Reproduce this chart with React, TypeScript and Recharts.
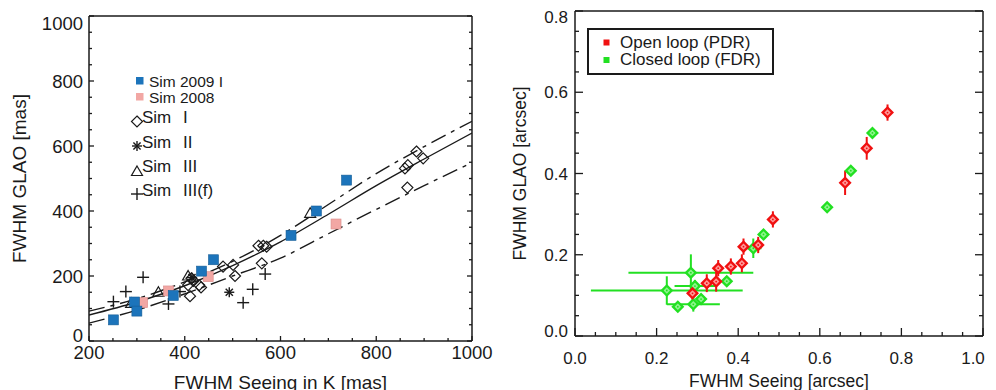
import React from "react";
import {
  ComposedChart,
  ScatterChart,
  Scatter,
  Line,
  XAxis,
  YAxis,
  ErrorBar,
  Legend,
  Label,
} from "recharts";

const FONT = "'Liberation Sans', Arial, Helvetica, sans-serif";
const ink = "#1a1a1a";

// ---- left panel: FWHM GLAO vs FWHM seeing in K [mas]
const sim2009 = [[251, 65], [295, 120], [300, 92], [376, 140], [435, 215], [460, 250], [622, 325], [675, 400], [738, 495]];
const sim2008 = [[312, 118], [366, 154], [449, 198], [716, 360]];
const simI = [
  [411, 138], [407, 172], [414, 193], [430, 172], [434, 165], [418, 185], [480, 229], [501, 234],
  [505, 200], [561, 239], [554, 293], [564, 293], [571, 290], [860, 531], [866, 541], [884, 583],
  [898, 562], [865, 472],
];
const simII = [[493, 150], [415, 195]];
const simIII = [[288, 116], [345, 150], [407, 200], [662, 393]];
const simIIIf = [[251, 121], [277, 152], [313, 196], [366, 114], [390, 152], [522, 118], [542, 159], [568, 206]];

const fitX = [200, 300, 400, 500, 600, 700, 800, 900, 1000];
const fitMid = [80, 120, 170, 232, 305, 390, 478, 560, 640];
const fitUpper = [92, 130, 182, 245, 325, 420, 515, 598, 676];
const fitLower = [55, 95, 145, 200, 255, 330, 405, 478, 549];

const kxTicks = [200, 250, 300, 350, 400, 450, 500, 550, 600, 650, 700, 750, 800, 850, 900, 950, 1000];
const kyTicks = [0, 50, 100, 150, 200, 250, 300, 350, 400, 450, 500, 550, 600, 650, 700, 750, 800, 850, 900, 950, 1000];

// ---- right panel: [seeing, glao, xerr, yerr] in arcsec
const openLoop = [
  [0.288, 0.105, 0.012, 0.016], [0.323, 0.13, 0, 0.022], [0.346, 0.134, 0, 0.025], [0.351, 0.167, 0, 0.02],
  [0.382, 0.171, 0, 0.02], [0.409, 0.179, 0, 0.022], [0.413, 0.22, 0, 0.02], [0.449, 0.224, 0, 0.02],
  [0.485, 0.287, 0, 0.02], [0.662, 0.377, 0, 0.03], [0.715, 0.462, 0, 0.028], [0.766, 0.55, 0, 0.02],
];
const closedLoop = [
  [0.225, 0.112, 0.186, 0.035], [0.252, 0.072, 0, 0.008], [0.284, 0.156, 0.153, 0.045], [0.29, 0.078, 0.065, 0.018],
  [0.294, 0.123, 0.05, 0.015], [0.309, 0.091, 0, 0.01], [0.372, 0.135, 0, 0.01], [0.437, 0.216, 0.02, 0.024],
  [0.462, 0.25, 0, 0.01], [0.618, 0.317, 0, 0.01], [0.676, 0.407, 0, 0.01], [0.729, 0.5, 0, 0.008],
];

const sxTicks = [0, 0.05, 0.1, 0.15, 0.2, 0.25, 0.3, 0.35, 0.4, 0.45, 0.5, 0.55, 0.6, 0.65, 0.7, 0.75, 0.8, 0.85, 0.9, 0.95, 1];
const syTicks = [0, 0.05, 0.1, 0.15, 0.2, 0.25, 0.3, 0.35, 0.4, 0.45, 0.5, 0.55, 0.6, 0.65, 0.7, 0.75, 0.8];

const pts = (a: number[][]) => a.map(([x, y]) => ({ x, y }));
const fit = (ys: number[]) => fitX.map((x, i) => ({ x, y: ys[i] }));
const errPts = (a: number[][]) => a.map(([x, y, ex, ey]) => ({ x, y, ex, ey }));

const onStep = (step: number) => (v: number) => Math.abs(v / step - Math.round(v / step)) < 1e-6;

type TickOpts = {
  side: "bottom" | "top" | "left" | "right";
  isMajor: (v: number) => boolean;
  major: number;
  minor: number;
  label?: (v: number) => string;
  fontSize?: number;
  gap?: number;
  nudge?: (v: number) => number;
};

function makeTick(o: TickOpts) {
  return (p: any) => {
    const { x, y, payload } = p;
    const v = payload.value;
    const big = o.isMajor(v);
    const len = big ? o.major : o.minor;
    const nd = o.nudge ? o.nudge(v) : 0;
    let line;
    if (o.side === "bottom") line = <line x1={x} y1={y} x2={x} y2={y - len} />;
    else if (o.side === "top") line = <line x1={x} y1={y} x2={x} y2={y + len} />;
    else if (o.side === "left") line = <line x1={x} y1={y} x2={x + len} y2={y} />;
    else line = <line x1={x} y1={y} x2={x - len} y2={y} />;
    let text = null;
    if (o.label && big) {
      const fs = o.fontSize || 16;
      if (o.side === "bottom")
        text = (
          <text x={x + nd} y={y + (o.gap || 0)} textAnchor="middle" fontSize={fs} fontFamily={FONT} fill={ink} stroke="none">
            {o.label(v)}
          </text>
        );
      else
        text = (
          <text x={x - (o.gap || 0)} y={y + fs * 0.36 + nd} textAnchor="end" fontSize={fs} fontFamily={FONT} fill={ink} stroke="none">
            {o.label(v)}
          </text>
        );
    }
    return (
      <g stroke={ink} strokeWidth={1.3}>
        {line}
        {text}
      </g>
    );
  };
}

// ---- marker shapes
const Square = (color: string, edge: string) => (p: any) =>
  <rect x={p.cx - 5} y={p.cy - 5} width={10} height={10} fill={color} stroke={edge} strokeWidth={0.6} />;

const OpenDiamond = (p: any) => (
  <polygon
    points={`${p.cx},${p.cy - 5.5} ${p.cx + 5.5},${p.cy} ${p.cx},${p.cy + 5.5} ${p.cx - 5.5},${p.cy}`}
    fill="none"
    stroke={ink}
    strokeWidth={1.2}
  />
);
const Asterisk = (p: any) => (
  <g stroke={ink} strokeWidth={1.4}>
    <line x1={p.cx - 5} y1={p.cy} x2={p.cx + 5} y2={p.cy} />
    <line x1={p.cx} y1={p.cy - 5} x2={p.cx} y2={p.cy + 5} />
    <line x1={p.cx - 3.6} y1={p.cy - 3.6} x2={p.cx + 3.6} y2={p.cy + 3.6} />
    <line x1={p.cx - 3.6} y1={p.cy + 3.6} x2={p.cx + 3.6} y2={p.cy - 3.6} />
  </g>
);
const Triangle = (p: any) => (
  <polygon
    points={`${p.cx},${p.cy - 5.5} ${p.cx + 5.5},${p.cy + 4} ${p.cx - 5.5},${p.cy + 4}`}
    fill="none"
    stroke={ink}
    strokeWidth={1.2}
  />
);
const Plus = (p: any) => (
  <g stroke={ink} strokeWidth={1.4}>
    <line x1={p.cx - 6} y1={p.cy} x2={p.cx + 6} y2={p.cy} />
    <line x1={p.cx} y1={p.cy - 6} x2={p.cx} y2={p.cy + 6} />
  </g>
);

const FilledDiamond = (color: string, inner: string) => (p: any) => {
  const d = (r: number) => `${p.cx},${p.cy - r} ${p.cx + r},${p.cy} ${p.cx},${p.cy + r} ${p.cx - r},${p.cy}`;
  return (
    <g>
      <polygon points={d(6.5)} fill={color} />
      <polygon points={d(3.2)} fill={inner} />
      <circle cx={p.cx} cy={p.cy} r={0.9} fill={color} />
    </g>
  );
};

const RED = "#f01010";
const GREEN = "#22e022";
const BLUE = "#1c74bb";
const PINK = "#f2a7a4";

const LeftLegend = () => {
  const ox = 125;
  const oy = 66;
  const t = (x: number, y: number, s: string, fs: number) => (
    <text x={x - ox} y={y - oy} fontSize={fs} fontFamily={FONT} fill={ink}>
      {s}
    </text>
  );
  const sym = [
    { y: 123, s: "I", el: <OpenDiamond cx={137 - ox} cy={121.5 - oy} /> },
    { y: 147.5, s: "II", el: <Asterisk cx={137 - ox} cy={146 - oy} /> },
    { y: 172, s: "III", el: <Triangle cx={137 - ox} cy={171.5 - oy} /> },
    { y: 196, s: "III(f)", el: <Plus cx={137 - ox} cy={194 - oy} /> },
  ];
  return (
    <svg width={115} height={140} style={{ overflow: "visible", display: "block" }}>
      <rect x={136 - ox} y={77 - oy} width={7.5} height={7.5} fill={BLUE} />
      {t(149, 87, "Sim 2009 I", 15.5)}
      <rect x={136 - ox} y={93 - oy} width={7.5} height={7.5} fill={PINK} />
      {t(149, 103, "Sim 2008", 15.5)}
      {sym.map((r) => (
        <g key={r.s}>
          {r.el}
          {t(142, r.y, "Sim", 17)}
          {t(183, r.y, r.s, 17)}
        </g>
      ))}
    </svg>
  );
};

const RightLegend = () => {
  const ox = 586;
  const oy = 27;
  return (
    <svg width={192} height={52} style={{ display: "block" }}>
      <rect x={588 - ox} y={29 - oy} width={185} height={45} fill="#fff" stroke={ink} strokeWidth={2} />
      <rect x={603.5 - ox} y={39.5 - oy} width={6} height={6} fill={RED} />
      <text x={620 - ox} y={47.5 - oy} fontSize={17} fontFamily={FONT} fill={ink}>
        Open loop (PDR)
      </text>
      <rect x={603.5 - ox} y={57 - oy} width={6} height={6} fill={GREEN} />
      <text x={620 - ox} y={65 - oy} fontSize={17} fontFamily={FONT} fill={ink}>
        Closed loop (FDR)
      </text>
    </svg>
  );
};

const axisLine = { stroke: ink, strokeWidth: 1.5 };

const LeftPanel = () => (
  <ComposedChart width={500} height={390} margin={{ top: 10, right: 22, bottom: 0, left: 0 }}>
    <XAxis
      type="number"
      dataKey="x"
      domain={[200, 1000]}
      allowDataOverflow
      ticks={kxTicks}
      interval={0}
      height={49}
      tickSize={0}
      tickMargin={0}
      tickLine={false}
      axisLine={axisLine}
      tick={makeTick({ side: "bottom", isMajor: onStep(200), major: 5, minor: 3, label: (v) => String(v), fontSize: 18.5, gap: 18 })}
    >
      <Label value="FWHM Seeing in K [mas]" position="insideBottom" offset={1} fontSize={19} fontFamily={FONT} fill={ink} />
    </XAxis>
    <XAxis
      xAxisId="top"
      orientation="top"
      type="number"
      domain={[200, 1000]}
      allowDataOverflow
      ticks={kxTicks}
      interval={0}
      height={6}
      tickSize={0}
      tickMargin={0}
      tickLine={false}
      axisLine={axisLine}
      tick={makeTick({ side: "top", isMajor: onStep(200), major: 5, minor: 3 })}
    />
    <YAxis
      type="number"
      dataKey="y"
      domain={[0, 1000]}
      allowDataOverflow
      ticks={kyTicks}
      interval={0}
      width={89}
      tickSize={0}
      tickMargin={0}
      tickLine={false}
      axisLine={axisLine}
      tick={makeTick({
        side: "left",
        isMajor: onStep(200),
        major: 5,
        minor: 3,
        label: (v) => String(v),
        fontSize: 18.5,
        gap: 6,
        nudge: (v) => (v === 0 ? -6 : v === 1000 ? 7 : 0),
      })}
    >
      <Label value="FWHM GLAO [mas]" position="insideLeft" angle={-90} offset={19} fontSize={19} fontFamily={FONT} fill={ink} style={{ textAnchor: "middle" }} />
    </YAxis>
    <YAxis
      yAxisId="right"
      orientation="right"
      type="number"
      domain={[0, 1000]}
      allowDataOverflow
      ticks={kyTicks}
      interval={0}
      width={6}
      tickSize={0}
      tickMargin={0}
      tickLine={false}
      axisLine={axisLine}
      tick={makeTick({ side: "right", isMajor: onStep(200), major: 5, minor: 3 })}
    />
    <Legend verticalAlign="middle" align="center" layout="horizontal" wrapperStyle={{ left: 125, top: 66, width: 115 }} content={() => <LeftLegend />} />
    <Line data={fit(fitUpper)} dataKey="y" type="monotone" stroke={ink} strokeWidth={1.4} strokeDasharray="16 6 4 6" dot={false} isAnimationActive={false} />
    <Line data={fit(fitMid)} dataKey="y" type="monotone" stroke={ink} strokeWidth={1.4} dot={false} isAnimationActive={false} />
    <Line data={fit(fitLower)} dataKey="y" type="monotone" stroke={ink} strokeWidth={1.4} strokeDasharray="16 6 4 6" dot={false} isAnimationActive={false} />
    <Scatter name="Sim I" data={pts(simI)} shape={OpenDiamond} isAnimationActive={false} />
    <Scatter name="Sim II" data={pts(simII)} shape={Asterisk} isAnimationActive={false} />
    <Scatter name="Sim III" data={pts(simIII)} shape={Triangle} isAnimationActive={false} />
    <Scatter name="Sim III(f)" data={pts(simIIIf)} shape={Plus} isAnimationActive={false} />
    <Scatter name="Sim 2008" data={pts(sim2008)} shape={Square(PINK, "#d98c8a")} isAnimationActive={false} />
    <Scatter name="Sim 2009 I" data={pts(sim2009)} shape={Square(BLUE, "#155d96")} isAnimationActive={false} />
  </ComposedChart>
);

const RightPanel = () => (
  <ScatterChart width={496} height={390} margin={{ top: 5, right: 7, bottom: 0, left: 0 }}>
    <XAxis
      type="number"
      dataKey="x"
      domain={[0, 1]}
      allowDataOverflow
      ticks={sxTicks}
      interval={0}
      height={54}
      tickSize={0}
      tickMargin={0}
      tickLine={false}
      axisLine={axisLine}
      tick={makeTick({
        side: "bottom",
        isMajor: onStep(0.2),
        major: 8,
        minor: 4,
        label: (v) => v.toFixed(1),
        fontSize: 17,
        gap: 28,
        nudge: (v) => (v === 1 ? -10 : 0),
      })}
    >
      <Label value="FWHM Seeing [arcsec]" position="insideBottom" offset={3} fontSize={17.5} fontFamily={FONT} fill={ink} />
    </XAxis>
    <XAxis
      xAxisId="top"
      orientation="top"
      type="number"
      domain={[0, 1]}
      allowDataOverflow
      ticks={sxTicks}
      interval={0}
      height={6}
      tickSize={0}
      tickMargin={0}
      tickLine={false}
      axisLine={axisLine}
      tick={makeTick({ side: "top", isMajor: onStep(0.2), major: 8, minor: 4 })}
    />
    <YAxis
      type="number"
      dataKey="y"
      domain={[0, 0.8]}
      allowDataOverflow
      ticks={syTicks}
      interval={0}
      width={75}
      tickSize={0}
      tickMargin={0}
      tickLine={false}
      axisLine={axisLine}
      tick={makeTick({
        side: "left",
        isMajor: onStep(0.2),
        major: 8,
        minor: 4,
        label: (v) => v.toFixed(1),
        fontSize: 17,
        gap: 7,
        nudge: (v) => (v === 0 ? -5 : v === 0.8 ? 6 : 0),
      })}
    >
      <Label value="FWHM GLAO [arcsec]" position="insideLeft" angle={-90} offset={20} fontSize={17.5} fontFamily={FONT} fill={ink} style={{ textAnchor: "middle" }} />
    </YAxis>
    <YAxis
      yAxisId="right"
      orientation="right"
      type="number"
      domain={[0, 0.8]}
      allowDataOverflow
      ticks={syTicks}
      interval={0}
      width={6}
      tickSize={0}
      tickMargin={0}
      tickLine={false}
      axisLine={axisLine}
      tick={makeTick({ side: "right", isMajor: onStep(0.2), major: 8, minor: 4 })}
    />
    <Legend verticalAlign="middle" align="center" layout="horizontal" wrapperStyle={{ left: 86, top: 27, width: 192 }} content={() => <RightLegend />} />
    <Scatter name="Closed loop (FDR)" data={errPts(closedLoop)} shape={FilledDiamond(GREEN, "#8ff58f")} isAnimationActive={false}>
      <ErrorBar dataKey="ex" direction="x" width={0} stroke={GREEN} strokeWidth={2} />
      <ErrorBar dataKey="ey" direction="y" width={0} stroke={GREEN} strokeWidth={2} />
    </Scatter>
    <Scatter name="Open loop (PDR)" data={errPts(openLoop)} shape={FilledDiamond(RED, "#ff9a9a")} isAnimationActive={false}>
      <ErrorBar dataKey="ex" direction="x" width={0} stroke={RED} strokeWidth={2} />
      <ErrorBar dataKey="ey" direction="y" width={0} stroke={RED} strokeWidth={2} />
    </Scatter>
  </ScatterChart>
);

export default function App() {
  return (
    <div style={{ position: "absolute", left: 0, top: 0, width: 996, height: 390, background: "#fff", overflow: "hidden" }}>
      <div style={{ position: "absolute", left: 0, top: 0 }}>
        <LeftPanel />
      </div>
      <div style={{ position: "absolute", left: 500, top: 0 }}>
        <RightPanel />
      </div>
    </div>
  );
}
